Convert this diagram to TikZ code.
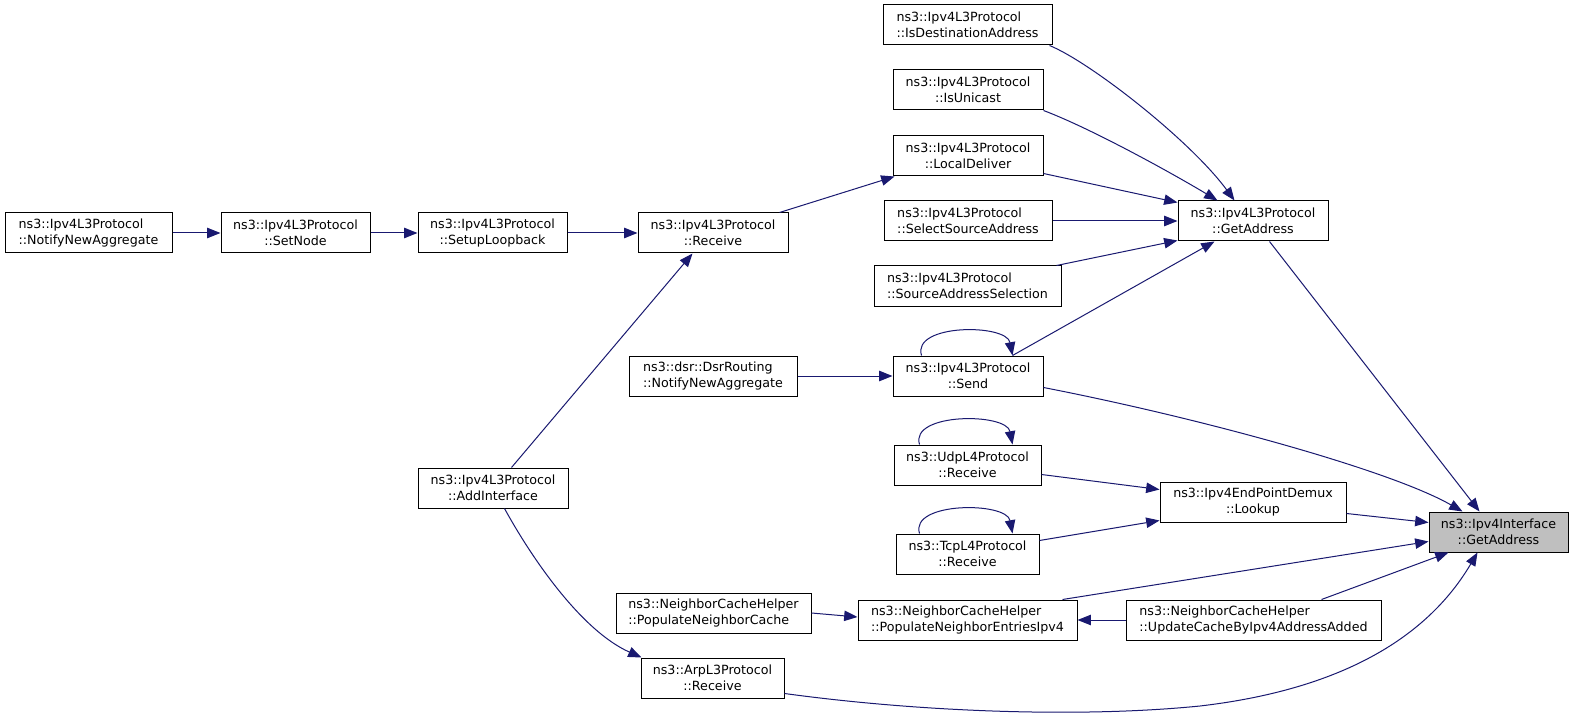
\documentclass[tikz,border=0pt]{standalone}
\usepackage{fontspec}
\setmainfont{DejaVu Sans}
\usetikzlibrary{arrows.meta,calc}
\definecolor{edgeblue}{HTML}{191970}
\definecolor{focusgray}{HTML}{BFBFBF}
\begin{document}
\begin{tikzpicture}[x=0.75pt,y=-0.75pt,
  fn/.style={draw=black, line width=0.75pt, fill=white, inner sep=0pt,
    font=\fontsize{9.5}{11.8}\selectfont, text=black, align=center},
  fnl/.style={fn, align=left},
  focus/.style={fn, fill=focusgray},
  wh/.style 2 args={minimum width=#1*0.75pt, minimum height=#2*0.75pt},
  call/.style={draw=edgeblue, line width=0.75pt, -{Triangle[length=10pt,width=7.8pt]}}]
\fill[white] (0,0) rectangle (1573,720);
\useasboundingbox (0,0) rectangle (1573,720);

\node[fnl, wh={167}{40}] (nnaL3) at (88.5,233) {ns3::Ipv4L3Protocol\\::NotifyNewAggregate};
\node[fn, wh={149}{40}] (setnode) at (295.5,233) {ns3::Ipv4L3Protocol\\::SetNode};
\node[fn, wh={149}{40}] (setup) at (492.5,233) {ns3::Ipv4L3Protocol\\::SetupLoopback};
\node[fn, wh={150}{40}] (receive) at (713,233) {ns3::Ipv4L3Protocol\\::Receive};
\node[fnl, wh={169}{40}] (isdest) at (967.5,25) {ns3::Ipv4L3Protocol\\::IsDestinationAddress};
\node[fn, wh={150}{40}] (isuni) at (968,90) {ns3::Ipv4L3Protocol\\::IsUnicast};
\node[fn, wh={150}{40}] (local) at (968,156) {ns3::Ipv4L3Protocol\\::LocalDeliver};
\node[fnl, wh={168}{40}] (selsrc) at (968,221) {ns3::Ipv4L3Protocol\\::SelectSourceAddress};
\node[fnl, wh={187}{40}] (srcsel) at (967.5,286) {ns3::Ipv4L3Protocol\\::SourceAddressSelection};
\node[fn, wh={150}{40}] (getL3) at (1253,221) {ns3::Ipv4L3Protocol\\::GetAddress};
\node[fn, wh={150}{40}] (send) at (968,376) {ns3::Ipv4L3Protocol\\::Send};
\node[fnl, wh={168}{40}] (dsr) at (713,376) {ns3::dsr::DsrRouting\\::NotifyNewAggregate};
\node[fn, wh={147}{40}] (udp) at (967.5,465) {ns3::UdpL4Protocol\\::Receive};
\node[fn, wh={143}{40}] (tcp) at (967.5,554) {ns3::TcpL4Protocol\\::Receive};
\node[fn, wh={186}{40}] (lookup) at (1253,502) {ns3::Ipv4EndPointDemux\\::Lookup};
\node[focus, wh={139}{40}] (iface) at (1498.5,532) {ns3::Ipv4Interface\\::GetAddress};
\node[fnl, wh={195}{40}] (pnc) at (713.5,613) {ns3::NeighborCacheHelper\\::PopulateNeighborCache};
\node[fnl, wh={219}{40}] (pne) at (967.5,620) {ns3::NeighborCacheHelper\\::PopulateNeighborEntriesIpv4};
\node[fnl, wh={255}{40}] (upd) at (1253.5,620) {ns3::NeighborCacheHelper\\::UpdateCacheByIpv4AddressAdded};
\node[fn, wh={143}{40}] (arp) at (712.5,678) {ns3::ArpL3Protocol\\::Receive};
\node[fn, wh={150}{40}] (addif) at (493,488) {ns3::Ipv4L3Protocol\\::AddInterface};
\coordinate (m24) at (1200,706);

\draw[call] (nnaL3.east) -- (setnode.west);
\draw[call] (setnode.east) -- (setup.west);
\draw[call] (setup.east) -- (receive.west);
\draw[call] ($(addif.north west)+(94,0)$) -- ($(receive.south west)+(55,0)$);
\draw[call] ($(receive.north west)+(142,0)$) -- ($(local.south west)+(2,0)$);
\draw[call] ($(isdest.south west)+(167,0)$) .. controls (1090,62) and (1190,140) .. ($(getL3.north west)+(57,0)$);
\draw[call] (isuni.south east) .. controls (1090,128) and (1170,172) .. ($(getL3.north west)+(40,0)$);
\draw[call] ($(local.south east)+(0,-3)$) -- ($(getL3.north west)+(0,2)$);
\draw[call] (selsrc.east) -- (getL3.west);
\draw[call] ($(srcsel.north west)+(183,0)$) -- ($(getL3.south west)+(0,-1)$);
\draw[call] ($(send.north west)+(120,0)$) -- ($(getL3.south west)+(37,0)$);
\draw[call] ($(send.north west)+(29,0)$) .. controls +(-10,-32) and +(-6,-32) .. ($(send.north west)+(120,0)$);
\draw[call] (dsr.east) -- (send.west);
\draw[call] ($(getL3.south west)+(92,0)$) -- ($(iface.north west)+(51,0)$);
\draw[call] ($(send.south east)+(0,-9)$) .. controls (1200,418) and (1390,470) .. ($(iface.north west)+(34,0)$);
\draw[call] ($(udp.north west)+(26,0)$) .. controls +(-10,-32) and +(-6,-32) .. ($(udp.north west)+(119,0)$);
\draw[call] ($(udp.north east)+(0,30)$) -- ($(lookup.north west)+(0,8)$);
\draw[call] ($(tcp.north west)+(24,0)$) .. controls +(-10,-32) and +(-6,-32) .. ($(tcp.north west)+(117,0)$);
\draw[call] ($(tcp.north east)+(0,7)$) -- ($(lookup.south west)+(0,-2)$);
\draw[call] ($(lookup.north east)+(0,32)$) -- ($(iface.north west)+(0,11)$);
\draw[call] ($(pne.north west)+(205,0)$) -- ($(iface.south west)+(0,-11)$);
\draw[call] ($(upd.north west)+(196,0)$) -- ($(iface.south west)+(20,0)$);
\draw[call] (upd.west) -- (pne.east);
\draw[call] (pnc.east) -- ($(pne.west)+(0,-3)$);
\draw[call] ($(addif.south west)+(87,0)$) .. controls (530,555) and (580,630) .. ($(arp.north west)+(1,0)$);
\draw[call] ($(arp.south east)+(0,-5)$) .. controls (920,712) and (1080,718) .. (m24) .. controls (1320,692) and (1420,650) .. ($(iface.south west)+(49,0)$);
\end{tikzpicture}
\end{document}
